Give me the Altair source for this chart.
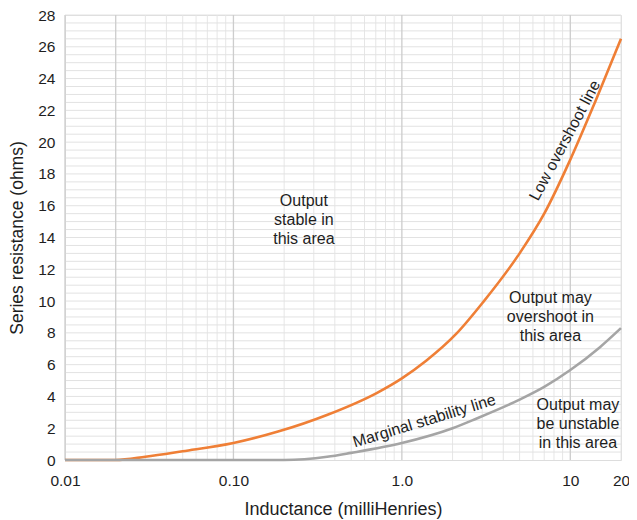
import altair as alt
import pandas as pd

# Data
ind_orange = [0.01, 0.02, 0.03, 0.05, 0.1, 0.184, 0.362, 0.713, 1.0, 1.4, 2.1, 3.03, 5.0, 7.0, 10.0, 14.0, 20.0]
res_orange = [0.0, 0.0, 0.2, 0.55, 1.07, 1.79, 2.85, 4.23, 5.14, 6.26, 7.93, 9.92, 13.0, 15.5, 18.9, 22.5, 26.5]
ind_gray = [0.01, 0.2, 0.36, 0.5, 1.0, 2.0, 2.76, 5.0, 7.0, 10.0, 15.0, 20.0]
res_gray = [0.0, 0.0, 0.2, 0.45, 1.07, 2.0, 2.6, 3.8, 4.6, 5.66, 7.1, 8.3]

x_ticks = [0.01, 0.1, 1, 10, 20]
x_tick_labels = ["0.01", "0.10", "1.0", "10", "20"]
y_ticks = list(range(0, 29, 2))
x_major_grid = [0.01, 0.02, 0.1, 1, 10]
x_minor_grid = [0.03, 0.04, 0.05, 0.06, 0.07, 0.08, 0.09,
                0.2, 0.3, 0.4, 0.5, 0.6, 0.7, 0.8, 0.9,
                2, 3, 4, 5, 6, 7, 8, 9, 20]
y_grid = [i * 0.5 for i in range(1, 57)]

area_texts = ["Output\nstable in\nthis area", "Output may\novershoot in\nthis area", "Output may\nbe unstable\nin this area"]
area_x = [0.262, 7.62, 11.1]
area_y = [16.3, 10.2, 3.46]

df_line = pd.DataFrame({
    "L": ind_orange + ind_gray,
    "R": res_orange + res_gray,
    "series": ["Low overshoot line"] * len(ind_orange) + ["Marginal stability line"] * len(ind_gray),
})

label_map = "{" + ",".join(f"'{v}':'{l}'" for v, l in zip(x_ticks, x_tick_labels)) + "}"

xscale = alt.Scale(type="log", domain=[0.01, 20], nice=False)
yscale = alt.Scale(domain=[0, 28], nice=False)

FONT = "Liberation Sans"
TXT = "#1e1e1e"

xaxis = alt.Axis(values=x_ticks, labelExpr=f"{label_map}[datum.value] || datum.label",
                 title="Inductance (milliHenries)", grid=False, domain=False, ticks=False,
                 labelPadding=13, titlePadding=12, labelFontSize=15.5, titleFontSize=18,
                 labelFont=FONT, titleFont=FONT,
                 labelColor=TXT, titleColor=TXT, titleFontWeight="normal",
                 labelOverlap=False, labelFlush=False)
yaxis = alt.Axis(values=y_ticks, title="Series resistance (ohms)", grid=False, domain=False,
                 ticks=False, labelPadding=10, titlePadding=11, labelFontSize=15.5, titleFontSize=17.5,
                 labelFont=FONT, titleFont=FONT, labelOverlap=False,
                 labelColor=TXT, titleColor=TXT, titleFontWeight="normal")


def X(field):
    return alt.X(field, scale=xscale, axis=xaxis, title="Inductance (milliHenries)")


def Y(field):
    return alt.Y(field, scale=yscale, axis=yaxis, title="Series resistance (ohms)")


xgrid_minor = alt.Chart(pd.DataFrame({"g": x_minor_grid})).mark_rule(color="#e6e6e6", strokeWidth=1).encode(
    x=X("g:Q"))
ygrid = alt.Chart(pd.DataFrame({"g": y_grid})).mark_rule(color="#e2e2e2", strokeWidth=1).encode(
    y=Y("g:Q"))
xgrid_major = alt.Chart(pd.DataFrame({"g": x_major_grid})).mark_rule(color="#cdcdcd", strokeWidth=1.3).encode(
    x=X("g:Q"))

lines = alt.Chart(df_line).mark_line(strokeWidth=2.6, interpolate="monotone").encode(
    x=X("L:Q"),
    y=Y("R:Q"),
    color=alt.Color("series:N", scale=alt.Scale(domain=["Low overshoot line", "Marginal stability line"],
                                                range=["#ef7f36", "#a5a5a5"]), legend=None),
)

area_df = pd.DataFrame({"x": area_x, "y": area_y, "t": area_texts})
area_text = alt.Chart(area_df).mark_text(
    font=FONT, fontSize=16, color=TXT, lineBreak="\n", lineHeight=19,
    align="center", baseline="middle").encode(
    x=X("x:Q"), y=Y("y:Q"), text="t:N")

low_text = alt.Chart(pd.DataFrame({"x": [9.3], "y": [20.1], "t": ["Low overshoot line"]})).mark_text(
    font=FONT, fontSize=16, color=TXT, angle=298, align="center", baseline="middle").encode(
    x=X("x:Q"), y=Y("y:Q"), text="t:N")

marg_text = alt.Chart(pd.DataFrame({"x": [1.36], "y": [2.45], "t": ["Marginal stability line"]})).mark_text(
    font=FONT, fontSize=16, color=TXT, angle=343, align="center", baseline="middle").encode(
    x=X("x:Q"), y=Y("y:Q"), text="t:N")

chart = alt.layer(xgrid_minor, ygrid, xgrid_major, lines, area_text, low_text, marg_text).properties(
    width=556, height=445,
    autosize=alt.AutoSizeParams(type="none"),
    padding={"left": 57, "top": 7, "right": 8, "bottom": 60},
).configure_view(stroke=None).configure(background="white")

chart.save("out.html", embed_options={"renderer": "svg", "actions": False})
